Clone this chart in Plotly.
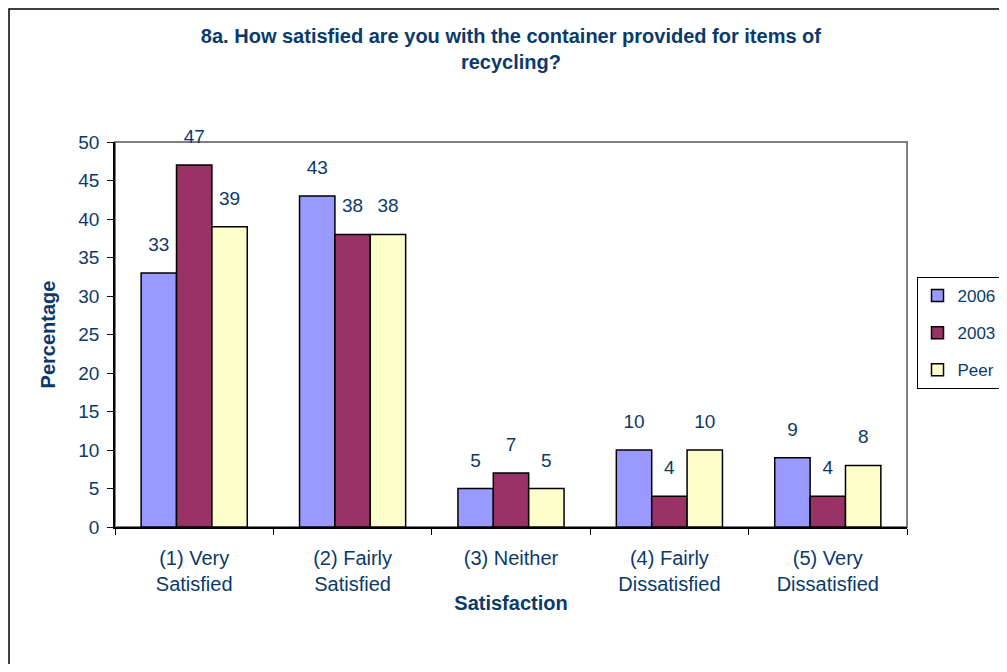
import plotly.graph_objects as go

categories = ["(1) Very<br>Satisfied", "(2) Fairly<br>Satisfied", "(3) Neither",
              "(4) Fairly<br>Dissatisfied", "(5) Very<br>Dissatisfied"]
series_names = ["2006", "2003", "Peer"]
vals_2006 = [33, 43, 5, 10, 9]
vals_2003 = [47, 38, 7, 4, 4]
vals_peer = [39, 38, 5, 10, 8]
colors = ["#9999FF", "#993366", "#FFFFCC"]

navy = "#0B3A6A"
font_family = "Liberation Sans, Arial, sans-serif"

fig = go.Figure()
series = list(zip(series_names, [vals_2006, vals_2003, vals_peer], colors))
for name, vals, col in series:
    fig.add_trace(go.Bar(
        x=categories, y=vals, name=name, legendgroup=name,
        marker=dict(color=col, line=dict(color="black", width=1.5)),
    ))

# value labels: invisible grouped markers, text sits above them (gives the gap seen in the original)
for name, vals, col in series:
    fig.add_trace(go.Scatter(
        x=categories, y=vals, mode="markers+text", showlegend=False, hoverinfo="skip",
        marker=dict(size=26, color="rgba(0,0,0,0)"),
        text=[str(v) for v in vals], textposition="top center",
        textfont=dict(size=19, color=navy, family=font_family),
        cliponaxis=False,
    ))

# plot-area frame (grey top/right) and page frame
fig.add_shape(type="rect", xref="paper", yref="paper", x0=0, x1=1, y0=0, y1=1,
              line=dict(color="#808080", width=2), layer="below")
fig.add_shape(type="rect", xref="paper", yref="paper",
              x0=-106 / 792, x1=1.5, y0=-1, y1=1 + 133 / 385,
              line=dict(color="black", width=1.5), layer="below")

fig.update_layout(
    width=991, height=656,
    margin=dict(l=107, r=92, t=134, b=137, autoexpand=False),
    paper_bgcolor="white", plot_bgcolor="white",
    font=dict(family=font_family, size=19, color=navy),
    title=dict(text="<b>8a. How satisfied are you with the container provided for items of<br>recycling?</b>",
               x=0.5075, xanchor="center", y=0.9466, yanchor="middle",
               font=dict(size=20, color=navy)),
    barmode="group", bargap=0.33, bargroupgap=0,
    scattermode="group", scattergap=0.33,
    showlegend=True,
    legend=dict(x=1.012, xanchor="left", y=1 - 135 / 385, yanchor="top",
                bordercolor="black", borderwidth=1, bgcolor="white",
                font=dict(size=17, color=navy), tracegroupgap=12,
                itemwidth=30),
    xaxis=dict(title=dict(text="<b>Satisfaction</b>", font=dict(size=20, color=navy), standoff=2),
               showline=True, linecolor="black", linewidth=1.5,
               ticks="outside", tickson="boundaries", ticklen=6, tickcolor="black",
               ticklabelstandoff=12,
               tickfont=dict(size=20, color=navy), showgrid=False),
    yaxis=dict(title=dict(text="<b>Percentage</b>", font=dict(size=20, color=navy), standoff=17),
               range=[0, 50], dtick=5, showline=True, linecolor="black", linewidth=1.5,
               ticks="outside", ticklen=6, tickcolor="black", ticklabelstandoff=4,
               tickfont=dict(size=19, color=navy), showgrid=False, zeroline=False),
)

fig.write_html("out.html")
